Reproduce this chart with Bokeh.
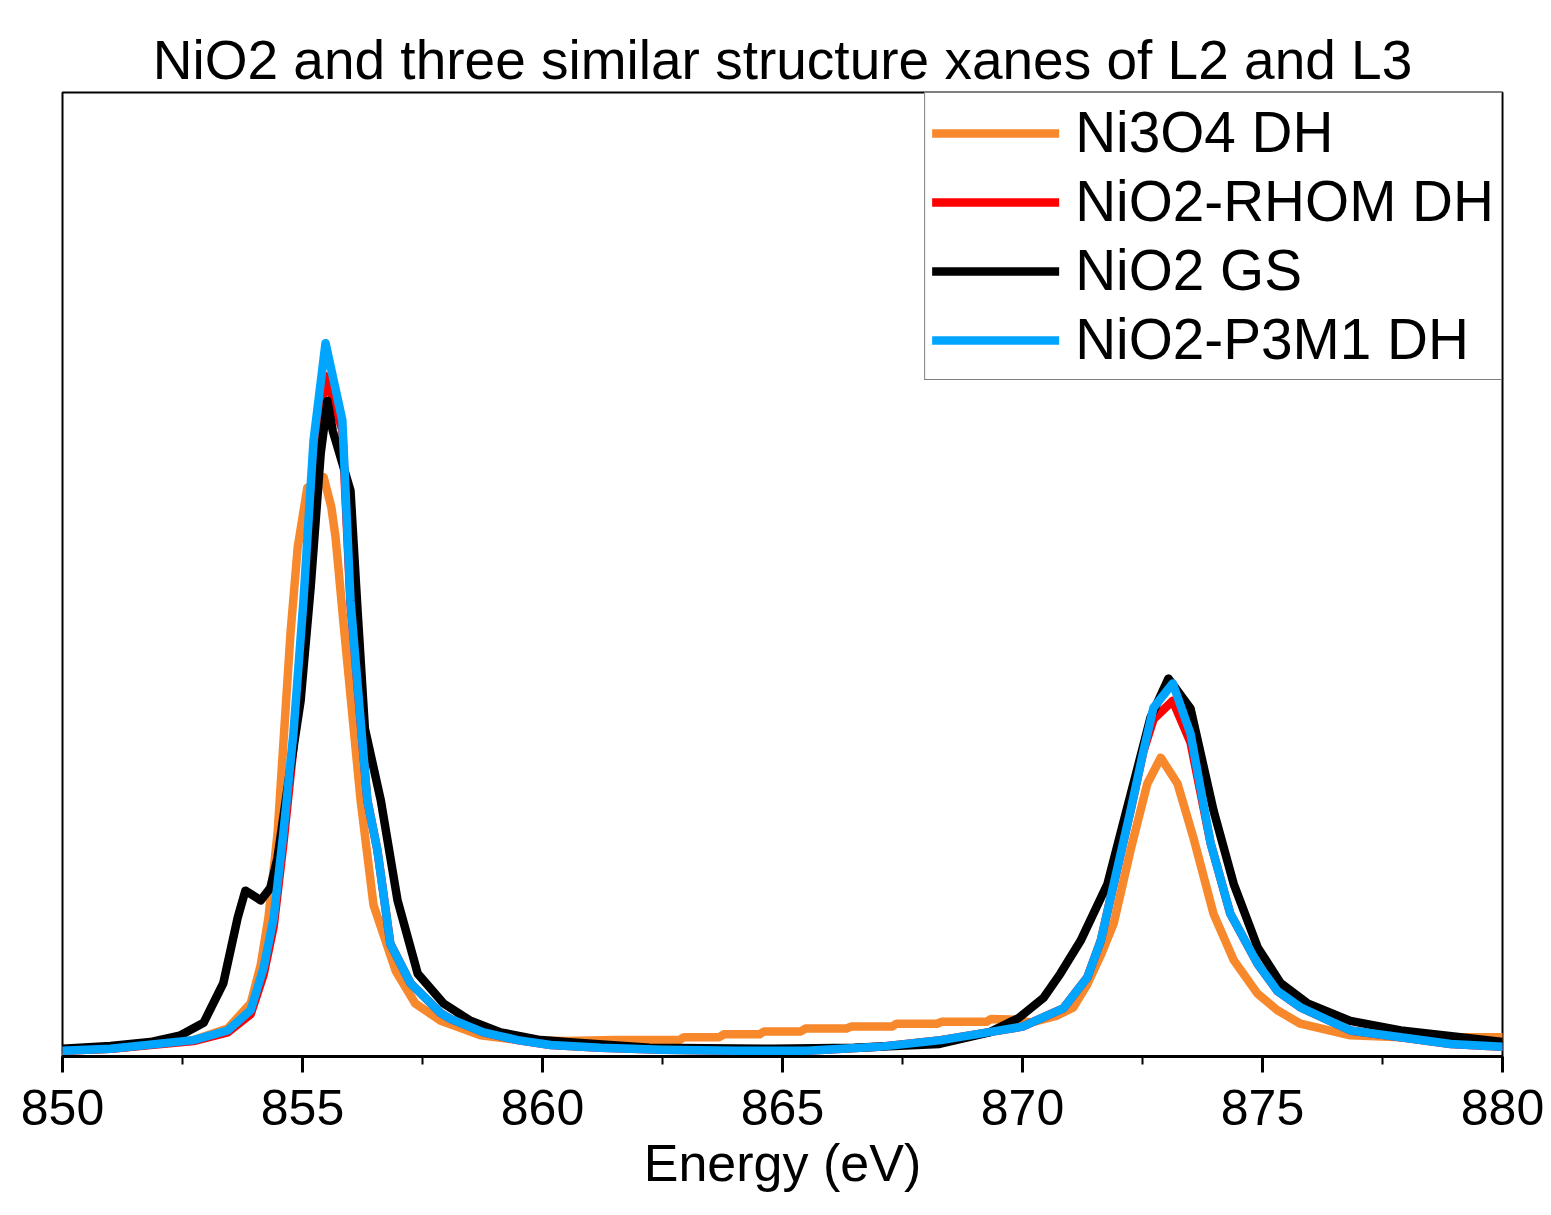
from bokeh.plotting import figure
from bokeh.models import Range1d, Legend, LegendItem, FixedTicker
from bokeh.embed import file_html
from bokeh.resources import INLINE

# ---------------- data (normalised intensity) ----------------
ni3o4_x = [850.0, 851.0, 852.73, 853.44, 853.92, 854.13, 854.29, 854.48, 854.75, 854.90, 855.10,
           855.44, 855.60, 855.69, 855.85, 856.21, 856.48, 856.94, 857.35, 857.88, 858.71, 859.54,
           860.5, 861.5, 862.85, 862.95, 863.68, 863.78, 864.52, 864.62, 865.38, 865.48, 866.33,
           866.43, 867.28, 867.38, 868.22, 868.32, 869.25, 869.35, 869.9, 870.17, 870.7, 871.06,
           871.35, 871.63, 871.90, 872.25, 872.60, 872.88, 873.23, 873.56, 873.98, 874.40, 874.90,
           875.31, 875.79, 876.83, 877.88, 878.92, 880.0]
ni3o4_y = [0.006, 0.008, 0.017, 0.029, 0.055, 0.095, 0.144, 0.231, 0.439, 0.528, 0.590,
           0.601, 0.570, 0.538, 0.452, 0.266, 0.157, 0.089, 0.055, 0.037, 0.022, 0.017,
           0.016, 0.017, 0.017, 0.020, 0.020, 0.023, 0.023, 0.026, 0.026, 0.029, 0.029,
           0.031, 0.031, 0.034, 0.034, 0.036, 0.036, 0.039, 0.038, 0.035, 0.042, 0.051,
           0.075, 0.105, 0.138, 0.214, 0.283, 0.310, 0.283, 0.227, 0.148, 0.100, 0.065,
           0.048, 0.034, 0.022, 0.020, 0.020, 0.020]

p3m1_x = [850.0, 851.0, 852.73, 853.44, 853.92, 854.19, 854.40, 854.60, 854.81, 855.02, 855.23,
          855.48, 855.83, 856.00, 856.35, 856.56, 856.83, 857.25, 857.88, 858.08, 858.77, 859.48,
          860.17, 861.21, 862.5, 864.0, 865.5, 867.0, 868.3, 869.15, 870.0, 870.58, 870.85, 871.35,
          871.63, 871.90, 872.25, 872.52, 872.73, 873.13, 873.50, 873.92, 874.33, 874.90, 875.31,
          875.79, 876.83, 877.88, 878.92, 880.0]
p3m1_y = [0.006, 0.008, 0.017, 0.027, 0.048, 0.092, 0.144, 0.231, 0.335, 0.473, 0.639,
          0.740, 0.660, 0.473, 0.266, 0.214, 0.117, 0.076, 0.045, 0.039, 0.025, 0.017,
          0.012, 0.009, 0.007, 0.006, 0.006, 0.010, 0.017, 0.024, 0.031, 0.044, 0.050, 0.082,
          0.120, 0.179, 0.255, 0.317, 0.362, 0.387, 0.335, 0.221, 0.148, 0.096, 0.068,
          0.051, 0.027, 0.020, 0.013, 0.010]

rhom_x = list(p3m1_x)
rhom_y = [0.006, 0.008, 0.016, 0.025, 0.044, 0.085, 0.135, 0.220, 0.320, 0.460, 0.620,
          0.706, 0.650, 0.470, 0.266, 0.214, 0.117, 0.076, 0.045, 0.039, 0.025, 0.017,
          0.012, 0.009, 0.007, 0.006, 0.006, 0.010, 0.017, 0.024, 0.031, 0.044, 0.050, 0.082,
          0.120, 0.179, 0.255, 0.317, 0.350, 0.369, 0.326, 0.221, 0.148, 0.096, 0.068,
          0.051, 0.027, 0.020, 0.013, 0.010]

gs_x = [850.0, 851.0, 851.83, 852.46, 852.94, 853.35, 853.65, 853.81, 854.13, 854.33, 854.48,
        854.75, 854.96, 855.17, 855.38, 855.52, 855.63, 856.0, 856.15, 856.3, 856.63, 856.98,
        857.40, 857.94, 858.5, 859.13, 859.96, 860.5, 862.23, 864.81, 866.5, 868.27, 869.31,
        869.92, 870.44, 870.79, 871.21, 871.77, 872.04, 872.40, 872.67, 873.04, 873.50, 873.98,
        874.40, 874.90, 875.38, 875.94, 876.83, 877.88, 880.0]
gs_y = [0.008, 0.011, 0.015, 0.022, 0.035, 0.076, 0.144, 0.172, 0.162, 0.175, 0.206,
        0.300, 0.369, 0.487, 0.626, 0.680, 0.649, 0.587, 0.460, 0.340, 0.266, 0.162,
        0.086, 0.055, 0.037, 0.025, 0.017, 0.015, 0.009, 0.008, 0.009, 0.013, 0.025,
        0.040, 0.061, 0.086, 0.120, 0.179, 0.231, 0.300, 0.352, 0.392, 0.361, 0.255,
        0.179, 0.113, 0.076, 0.055, 0.037, 0.027, 0.015]

series_names = ["Ni3O4 DH", "NiO2-RHOM DH", "NiO2 GS", "NiO2-P3M1 DH"]
series_colors = ["#F7882C", "#FF0000", "#000000", "#00A5FF"]
x_ticks = [850, 855, 860, 865, 870, 875, 880]
title_text = "NiO2 and three similar structure xanes of L2 and L3"
x_label = "Energy (eV)"

FONT = "Liberation Sans"

p = figure(width=1551, height=1215, output_backend="svg", toolbar_location=None,
           x_range=Range1d(850, 880), y_range=Range1d(0, 1),
           min_border_left=62, min_border_right=49, min_border_top=92, min_border_bottom=159)
p.background_fill_color = "white"
p.border_fill_color = "white"
p.grid.visible = False
p.outline_line_color = "black"
p.outline_line_width = 2
p.yaxis.visible = False

p.title.text = title_text
p.title.align = "center"
p.title.text_font = FONT
p.title.text_font_size = "55px"
p.title.text_font_style = "normal"
p.title.text_color = "black"
p.title.standoff = 4

ax = p.xaxis[0]
ax.ticker = FixedTicker(ticks=x_ticks, minor_ticks=[850 + 2.5 * i for i in range(13)])
ax.axis_line_width = 3
ax.axis_line_color = "black"
ax.major_tick_in = 0
ax.major_tick_out = 16
ax.minor_tick_in = 0
ax.minor_tick_out = 8
ax.major_tick_line_width = 3
ax.minor_tick_line_width = 2
ax.major_label_text_font = FONT
ax.major_label_text_font_size = "50px"
ax.major_label_text_color = "black"
ax.major_label_standoff = 17
ax.axis_label = x_label
ax.axis_label_text_font = FONT
ax.axis_label_text_font_size = "52px"
ax.axis_label_text_font_style = "normal"
ax.axis_label_text_color = "black"
ax.axis_label_standoff = 6

xs = [ni3o4_x, rhom_x, gs_x, p3m1_x]
ys = [ni3o4_y, rhom_y, gs_y, p3m1_y]
items = []
for name, col, x, y in zip(series_names, series_colors, xs, ys):
    r = p.line(x, y, line_color=col, line_width=8.5, line_join="round", line_cap="round")
    items.append(LegendItem(label=name, renderers=[r]))

legend = Legend(items=items, location="top_right", margin=0, padding=7, spacing=4,
                glyph_width=127, glyph_height=62, label_height=62, label_standoff=16,
                label_text_font=FONT, label_text_font_size="56.7px", label_text_color="black",
                border_line_color="black", border_line_width=1,
                background_fill_alpha=1.0)
p.add_layout(legend)

open("out.html", "w").write(file_html(p, INLINE))
